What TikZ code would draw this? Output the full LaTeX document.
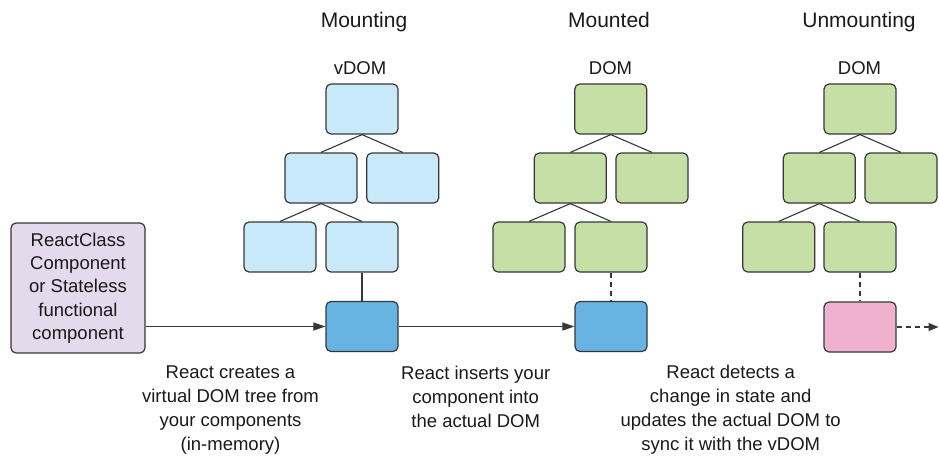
\documentclass[tikz,border=0pt]{standalone}
\usepackage{fontspec}
\setmainfont{Liberation Sans}
\usetikzlibrary{arrows.meta}
\definecolor{lblue}{RGB}{200,233,249}
\definecolor{lgreen}{RGB}{198,223,166}
\definecolor{mblue}{RGB}{103,180,226}
\definecolor{lpink}{RGB}{240,177,209}
\definecolor{lpurple}{RGB}{229,218,236}
\definecolor{edge}{RGB}{55,55,55}
\definecolor{txt}{RGB}{25,25,25}
\tikzset{
  box/.style={draw=edge, rounded corners=5pt, minimum width=72pt, minimum height=50pt, line width=1.2pt, inner sep=0pt},
  bluebox/.style={box, fill=lblue},
  greenbox/.style={box, fill=lgreen},
  link/.style={draw=edge, line width=1.1pt},
  flow/.style={link, -{Triangle[length=12pt,width=8pt]}},
  title/.style={text=txt, font=\fontsize{21}{24}\selectfont, anchor=base, inner sep=0pt},
  sub/.style={text=txt, font=\fontsize{18.5}{24}\selectfont, anchor=base, inner sep=0pt},
  note/.style={text=txt, font=\fontsize{18.5}{24}\selectfont, align=center, anchor=base, inner sep=0pt},
}
\begin{document}
\begin{tikzpicture}[x=1pt,y=-1pt]
\useasboundingbox (0,0) rectangle (939,456);
% titles
\node[title] (t1) at (364,27.5) {Mounting};
\node[title] (t2) at (609,27.5) {Mounted};
\node[title] (t3) at (859,27.5) {Unmounting};
\node[sub] (s1) at (360,74) {vDOM};
\node[sub] (s2) at (610.5,74) {DOM};
\node[sub] (s3) at (859.5,74) {DOM};
% tree 1
\node[bluebox] (a0) at (362,109) {};
\node[bluebox] (a1) at (321,178) {};
\node[bluebox] (a2) at (402.7,178) {};
\node[bluebox] (a3) at (280,247) {};
\node[bluebox] (a4) at (362,247) {};
\node[box, fill=mblue] (ab) at (362,326.5) {};
% tree 2
\node[greenbox] (b0) at (610.8,109) {};
\node[greenbox] (b1) at (570.3,178) {};
\node[greenbox] (b2) at (652,178) {};
\node[greenbox] (b3) at (529,247) {};
\node[greenbox] (b4) at (611,247) {};
\node[box, fill=mblue] (bb) at (611,326.5) {};
% tree 3
\node[greenbox] (c0) at (860,109) {};
\node[greenbox] (c1) at (819.3,178) {};
\node[greenbox] (c2) at (901,178) {};
\node[greenbox] (c3) at (778.7,247) {};
\node[greenbox] (c4) at (860,247) {};
\node[box, fill=lpink] (cb) at (860,327) {};
\coordinate (cend) at (938.5,327);
% left box
\node[draw=edge, rounded corners=5pt, line width=1.2pt, fill=lpurple, minimum width=134pt, minimum height=130pt, inner sep=0pt, align=center, text=txt, font=\fontsize{18.5}{23.3}\selectfont] (src) at (78,288) {ReactClass\\Component\\or Stateless\\functional\\component};
% tree links
\foreach \t in {a,b,c}{
  \draw[link] (\t0.south) -- (\t1.north);
  \draw[link] (\t0.south) -- (\t2.north);
  \draw[link] (\t1.south) -- (\t3.north);
  \draw[link] (\t1.south) -- (\t4.north);
}
\draw[link] (a4.south) -- (ab.north);
\draw[link, dashed, dash pattern=on 5pt off 4pt] (b4.south) -- (bb.north);
\draw[link, dashed, dash pattern=on 5pt off 4pt] (c4.south) -- (cb.north);
\draw[flow] (src.east |- ab.west) -- (ab.west);
\draw[flow] (ab.east) -- (bb.west);
\draw[link, dash pattern=on 5pt off 4pt, -{Triangle[length=10pt,width=8pt]}] (cb.east) -- (cend);
% notes (base anchor = baseline of last line)
\node[note] (n1) at (230.5,450.5) {React creates a\\virtual DOM tree from\\your components\\(in-memory)};
\node[note] (n2) at (475.7,427) {React inserts your\\component into\\the actual DOM};
\node[note] (n3) at (730.7,450.5) {React detects a\\change in state and\\updates the actual DOM to\\sync it with the vDOM};
\end{tikzpicture}
\end{document}
